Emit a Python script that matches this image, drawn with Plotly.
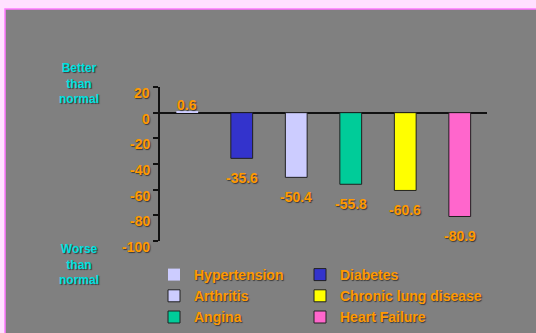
import plotly.graph_objects as go

# Change in score relative to normal, by condition
categories = ["Hypertension", "Diabetes", "Arthritis", "Angina",
              "Chronic lung disease", "Heart Failure"]
values = [0.6, -35.6, -50.4, -55.8, -60.6, -80.9]
colors = ["#CCCCFF", "#3333CC", "#CCCCFF", "#00CC99", "#FFFF00", "#FF66CC"]
outline_widths = [0, 1, 1, 1, 1, 1]
# two legend columns: left column and right column
legend_ids = ["legend", "legend2", "legend", "legend", "legend2", "legend2"]

tick_values = [20, 0, -20, -40, -60, -80, -100]
tick_labels = ["20", "0", "-20", "-40", "-60", "-80", "-100"]

FONT = "Liberation Sans, Arial, sans-serif"
ORANGE = "#FF9900"
CYAN = "#00E0E0"
SHADOW = "1px 1px 1px #3a3a3a"

W, H = 536, 333
L, R, T, B = 160, 49, 87, 92
pw, ph = W - L - R, H - T - B


def px_x(p):
    return (p - L) / pw


def px_y(p):
    return (H - B - p) / ph


fig = go.Figure()
for cat, val, col, lw, lg in zip(categories, values, colors, outline_widths, legend_ids):
    fig.add_trace(go.Bar(
        x=[cat], y=[val], name=cat, width=0.4, legend=lg,
        marker=dict(color=col, line=dict(color="#202020", width=lw)),
        hoverinfo="skip",
    ))

annotations = []
# value labels
for cat, val in zip(categories, values):
    annotations.append(dict(
        x=cat, y=val, xref="x", yref="y", text=f"{val:.1f}",
        showarrow=False, yanchor="middle",
        yshift=7 if val > 0 else -20,
        font=dict(family=FONT, size=14, color=ORANGE, weight="bold", shadow=SHADOW),
    ))
# y tick labels
for tv, tl in zip(tick_values, tick_labels):
    annotations.append(dict(
        x=0, y=tv, xref="paper", yref="y", text=tl, showarrow=False,
        xanchor="right", yanchor="middle", xshift=-8, yshift=-6,
        font=dict(family=FONT, size=14, color=ORANGE, weight="bold", shadow=SHADOW),
    ))
# side captions
for txt, py in [("Better<br>than<br>normal", 83), ("Worse<br>than<br>normal", 264)]:
    annotations.append(dict(
        x=px_x(79), y=px_y(py), xref="paper", yref="paper", text=txt,
        showarrow=False, xanchor="center", yanchor="middle", align="center",
        font=dict(family=FONT, size=12, color=CYAN, weight="bold", shadow=SHADOW),
    ))

legend_style = dict(
    orientation="v", xanchor="left", yanchor="top", traceorder="normal",
    bgcolor="rgba(0,0,0,0)", itemclick=False, itemdoubleclick=False,
    font=dict(family=FONT, size=14, color=ORANGE, weight="bold", shadow=SHADOW),
    tracegroupgap=0,
)

fig.update_layout(
    width=W, height=H,
    margin=dict(l=L, r=R, t=T, b=B, autoexpand=False),
    paper_bgcolor="#FFE0FF",
    plot_bgcolor="rgba(0,0,0,0)",
    barmode="overlay",
    showlegend=True,
    legend=dict(x=px_x(154), y=px_y(259), **legend_style),
    legend2=dict(x=px_x(300), y=px_y(259), **legend_style),
    xaxis=dict(range=[-0.5, 5.5], showline=False, showticklabels=False,
               ticks="", showgrid=False, zeroline=False, fixedrange=True),
    yaxis=dict(range=[-100, 20], tickvals=tick_values, showticklabels=False,
               ticks="outside", ticklen=5, tickcolor="#111111", tickwidth=1.5,
               showline=True, linecolor="#111111", linewidth=1.5,
               showgrid=False, zeroline=True, zerolinecolor="#111111",
               zerolinewidth=1.5, fixedrange=True),
    annotations=annotations,
    shapes=[dict(
        type="rect", xref="paper", yref="paper", layer="below",
        x0=px_x(5), x1=px_x(545), y0=px_y(9), y1=px_y(345),
        fillcolor="#808080", line=dict(color="#FF77FF", width=1.5),
    )],
)

fig.write_html("out.html")
